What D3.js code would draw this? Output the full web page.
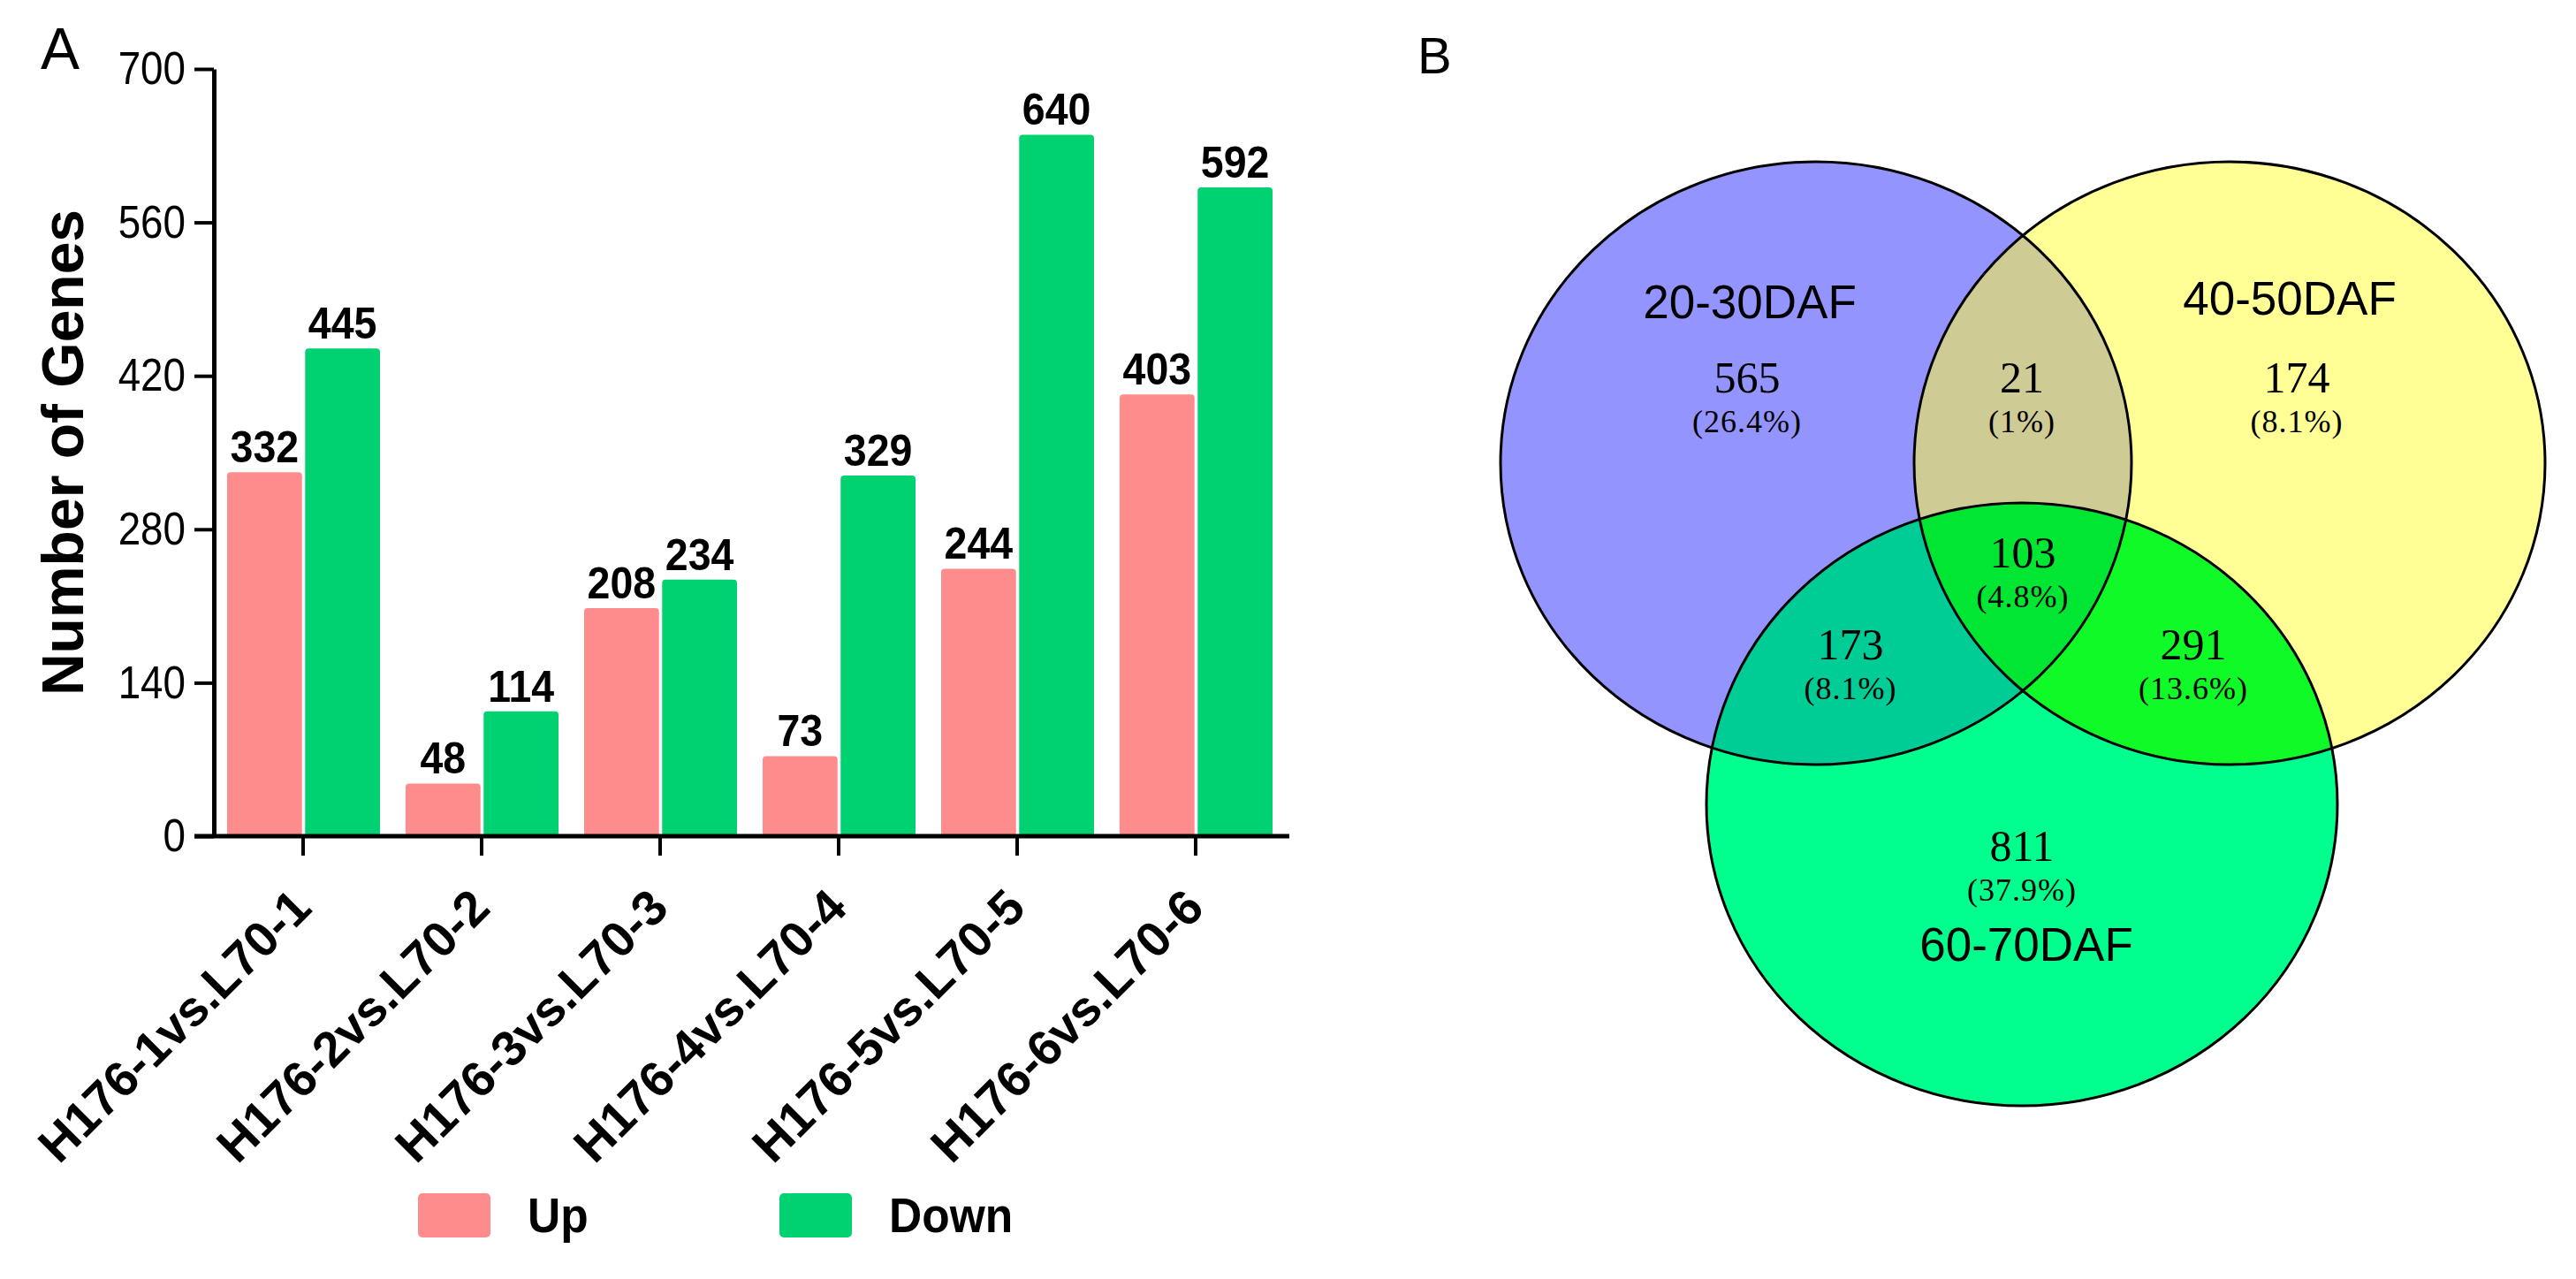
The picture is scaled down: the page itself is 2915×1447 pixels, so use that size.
<!DOCTYPE html>
<html>
<head>
<meta charset="utf-8">
<script src="https://cdn.jsdelivr.net/npm/d3@7"></script>
<style>
  body { margin: 0; background: #fff; }
  svg { display: block; }
  .sans { font-family: "Liberation Sans", Arial, sans-serif; }
  .serif { font-family: "Liberation Serif", "Times New Roman", serif; }
</style>
</head>
<body>
<svg id="fig" width="2915" height="1447"></svg>
<script>
// ---- data: panel A ----
var categories = ["H176-1vs.L70-1", "H176-2vs.L70-2", "H176-3vs.L70-3",
                  "H176-4vs.L70-4", "H176-5vs.L70-5", "H176-6vs.L70-6"];
var series = ["Up", "Down"];
var upValues = [332, 48, 208, 73, 244, 403];
var downValues = [445, 114, 234, 329, 640, 592];
var yTicks = [0, 140, 280, 420, 560, 700];
var seriesColors = ["#ff8c8c", "#00d272"];

// ---- data: panel B ----
var setNames = ["20-30DAF", "40-50DAF", "60-70DAF"];
// regions: A only, B only, C only, AB, AC, BC, ABC
var regionCounts = [565, 174, 811, 21, 173, 291, 103];
var regionPercents = ["26.4%", "8.1%", "37.9%", "1%", "8.1%", "13.6%", "4.8%"];
var setColors = ["#9494ff", "#ffff96", "#00ff8c"];
var pairColors = { AB: "#cfcb94", AC: "#00cc96", BC: "#10fa28" };
var tripleColor = "#00e632";

var svg = d3.select("#fig");

// ================= panel A =================
var y = d3.scaleLinear().domain([0, 700]).range([946, 78]);
var x0 = d3.scaleBand().domain(categories).range([242, 1454]).padding(0);
var x1 = d3.scaleBand().domain(series).range([15, 188]).paddingInner(0.04);

var rows = categories.map(function(c, i) {
    return { cat: c, values: [upValues[i], downValues[i]] };
});

var barG = svg.append("g");
var groups = barG.selectAll("g.grp")
    .data(rows)
    .enter().append("g")
        .attr("class", "grp")
        .attr("transform", function(d) { return "translate(" + x0(d.cat) + ",0)"; });

groups.selectAll("rect")
    .data(function(d) { return d.values.map(function(v, j) { return { s: series[j], v: v, j: j }; }); })
    .enter().append("rect")
        .attr("x", function(d) { return x1(d.s); })
        .attr("y", function(d) { return y(d.v); })
        .attr("width", x1.bandwidth())
        .attr("height", function(d) { return y(0) - y(d.v); })
        .attr("rx", 4)
        .attr("fill", function(d) { return seriesColors[d.j]; });

// value labels, slightly condensed like the original
groups.selectAll("text.val")
    .data(function(d) { return d.values.map(function(v, j) { return { s: series[j], v: v }; }); })
    .enter().append("text")
        .attr("class", "val sans")
        .attr("transform", function(d) {
            return "translate(" + (x1(d.s) + x1.bandwidth() / 2) + "," + (y(d.v) - 11) + ") scale(0.93,1)";
        })
        .attr("text-anchor", "middle")
        .attr("font-size", 50)
        .attr("font-weight", "bold")
        .text(function(d) { return d.v; });

// y axis
var yAxis = svg.append("g")
    .attr("class", "sans")
    .attr("transform", "translate(" + x0.range()[0] + ",0)")
    .call(d3.axisLeft(y).tickValues(yTicks).tickSize(22).tickSizeOuter(0).tickPadding(10));
yAxis.select(".domain").attr("stroke-width", 5);
yAxis.selectAll(".tick line").attr("stroke-width", 4);
yAxis.selectAll(".tick text")
    .attr("font-size", 52)
    .attr("fill", "#000")
    .attr("x", 0)
    .attr("transform", "translate(-32,0) scale(0.88,1)");

// x axis
var xAxis = svg.append("g")
    .attr("class", "sans")
    .attr("transform", "translate(0," + y(0) + ")")
    .call(d3.axisBottom(x0).tickSize(22).tickSizeOuter(0));
xAxis.select(".domain").remove();
xAxis.append("line")
    .attr("x1", x0.range()[0] - 22)
    .attr("x2", x0.range()[1] + 5)
    .attr("stroke", "#000")
    .attr("stroke-width", 5);
xAxis.selectAll(".tick line").attr("stroke-width", 4);
xAxis.selectAll(".tick text")
    .attr("font-size", 56)
    .attr("font-weight", "bold")
    .attr("fill", "#000")
    .attr("text-anchor", "end")
    .attr("x", 0).attr("y", 0).attr("dy", 0)
    .attr("transform", "translate(12,84) rotate(-45)");

// axis title
svg.append("text")
    .attr("class", "sans")
    .attr("transform", "translate(94,512) rotate(-90)")
    .attr("text-anchor", "middle")
    .attr("font-size", 66)
    .attr("font-weight", "bold")
    .text("Number of Genes");

// panel letter
svg.append("text").attr("class", "sans")
    .attr("x", 46).attr("y", 78)
    .attr("font-size", 66)
    .text("A");

// legend
var legendX = [473, 882];
var legend = svg.append("g").selectAll("g")
    .data(series)
    .enter().append("g")
        .attr("transform", function(d, i) { return "translate(" + legendX[i] + ",1350)"; });
legend.append("rect")
    .attr("width", 82).attr("height", 50).attr("rx", 5)
    .attr("fill", function(d, i) { return seriesColors[i]; });
legend.append("text")
    .attr("class", "sans")
    .attr("transform", "translate(124,44) scale(0.92,1)")
    .attr("font-size", 56)
    .attr("font-weight", "bold")
    .text(function(d) { return d; });

// ================= panel B =================
svg.append("text").attr("class", "sans")
    .attr("x", 1604).attr("y", 83)
    .attr("font-size", 58)
    .text("B");

var rx = 357, ry = 341;
var circles = [
    { cx: 2055, cy: 524 },
    { cx: 2523, cy: 524 },
    { cx: 2288, cy: 910 }
];

var defs = svg.append("defs");
circles.forEach(function(c, i) {
    defs.append("clipPath").attr("id", "clip" + i)
        .append("ellipse")
        .attr("cx", c.cx).attr("cy", c.cy).attr("rx", rx).attr("ry", ry);
});

var venn = svg.append("g");
// single sets
venn.selectAll("ellipse.fill")
    .data(circles)
    .enter().append("ellipse")
        .attr("class", "fill")
        .attr("cx", function(d) { return d.cx; })
        .attr("cy", function(d) { return d.cy; })
        .attr("rx", rx).attr("ry", ry)
        .attr("fill", function(d, i) { return setColors[i]; });

// pairwise overlaps
var pairs = [
    { key: "AB", a: 0, b: 1 },
    { key: "AC", a: 0, b: 2 },
    { key: "BC", a: 1, b: 2 }
];
pairs.forEach(function(p) {
    var c = circles[p.b];
    venn.append("ellipse")
        .attr("cx", c.cx).attr("cy", c.cy).attr("rx", rx).attr("ry", ry)
        .attr("clip-path", "url(#clip" + p.a + ")")
        .attr("fill", pairColors[p.key]);
});
// triple overlap
venn.append("g").attr("clip-path", "url(#clip0)")
    .append("ellipse")
        .attr("cx", circles[1].cx).attr("cy", circles[1].cy)
        .attr("rx", rx).attr("ry", ry)
        .attr("clip-path", "url(#clip2)")
        .attr("fill", tripleColor);

// outlines
venn.selectAll("ellipse.outline")
    .data(circles)
    .enter().append("ellipse")
        .attr("class", "outline")
        .attr("cx", function(d) { return d.cx; })
        .attr("cy", function(d) { return d.cy; })
        .attr("rx", rx).attr("ry", ry)
        .attr("fill", "none")
        .attr("stroke", "#000")
        .attr("stroke-width", 3);

// set names
var setLabelPos = [[1980, 360], [2591, 356], [2293, 1087]];
venn.selectAll("text.setname")
    .data(setNames)
    .enter().append("text")
        .attr("class", "setname sans")
        .attr("x", function(d, i) { return setLabelPos[i][0]; })
        .attr("y", function(d, i) { return setLabelPos[i][1]; })
        .attr("text-anchor", "middle")
        .attr("font-size", 53)
        .text(function(d) { return d; });

// region counts
var regionPos = [[1977, 448], [2599, 448], [2288, 978], [2288, 448],
                 [2094, 750], [2482, 750], [2289, 646]];
var regions = venn.selectAll("g.region")
    .data(regionCounts)
    .enter().append("g")
        .attr("class", "region serif")
        .attr("transform", function(d, i) { return "translate(" + regionPos[i][0] + "," + regionPos[i][1] + ")"; });
regions.append("text")
    .attr("y", -4)
    .attr("text-anchor", "middle")
    .attr("font-size", 50)
    .text(function(d) { return d; });
regions.append("text")
    .attr("y", 41)
    .attr("text-anchor", "middle")
    .attr("font-size", 36)
    .attr("letter-spacing", 1)
    .text(function(d, i) { return "(" + regionPercents[i] + ")"; });
</script>
</body>
</html>
